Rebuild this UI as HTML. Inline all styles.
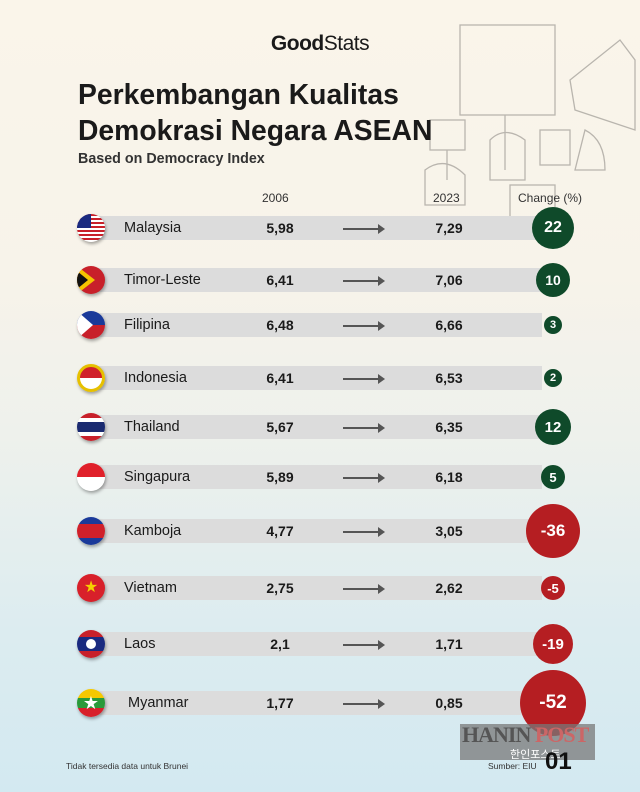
<!DOCTYPE html>
<html><head><meta charset="utf-8"><style>
*{margin:0;padding:0;box-sizing:border-box}
body{width:640px;height:792px;overflow:hidden;font-family:"Liberation Sans",sans-serif;color:#1a1a1a;
background:linear-gradient(180deg,#faf5ea 0%,#f7f3ea 35%,#eef1ec 55%,#dcecf0 80%,#d3e9f1 100%);position:relative}
.a{position:absolute}
.bar{position:absolute;left:92px;width:450px;height:24px;background:#dcdcdc}
.flag{position:absolute;left:77px;width:28px;height:28px;border-radius:50%;overflow:hidden;box-shadow:1px 2px 3px rgba(0,0,0,.35)}
.name{position:absolute;left:124px;font-size:14.5px;line-height:24px}
.v{position:absolute;width:60px;text-align:center;font-size:14px;font-weight:bold;line-height:24px}
.arr{position:absolute;left:343px;width:40px;height:2px;background:#555}
.arr:after{content:"";position:absolute;right:-2px;top:-4px;border-left:7px solid #555;border-top:5px solid transparent;border-bottom:5px solid transparent}
.c{position:absolute;border-radius:50%;color:#fff;font-weight:bold;display:flex;align-items:center;justify-content:center}
.g{background:#0f4a2a}.r{background:#b51e22}
</style></head><body>
<svg class="a" style="left:420px;top:20px" width="220" height="200" viewBox="0 0 220 200" fill="none" stroke="#b9b5ae" stroke-width="1.3">
<rect x="40" y="5" width="95" height="90"/><line x1="85" y1="95" x2="85" y2="150"/>
<path d="M70 120 q15-15 35 0 v40 h-35z"/>
<rect x="10" y="100" width="35" height="30"/><line x1="27" y1="130" x2="27" y2="160"/>
<path d="M5 150 q20-15 40 5 v30 h-40z"/>
<rect x="120" y="110" width="30" height="35"/>
<path d="M150 60 l50-40 l15 20 v70 l-60-20z"/><path d="M165 110 q20 10 20 40 h-30z"/>
<rect x="90" y="165" width="45" height="35"/></svg>
<div class="a" style="left:0;width:640px;top:32px;text-align:center;font-size:21px;letter-spacing:-0.5px"><b>Good</b>Stats</div>
<div class="a" style="left:78px;top:76px;font-size:28.3px;font-weight:bold;line-height:36px">Perkembangan Kualitas<br>Demokrasi Negara ASEAN</div>
<div class="a" style="left:78px;top:151px;font-size:14.3px;font-weight:bold;color:#333">Based on Democracy Index</div>
<div class="a" style="left:262px;top:191px;font-size:12px;color:#333">2006</div>
<div class="a" style="left:433px;top:191px;font-size:12px;color:#333">2023</div>
<div class="a" style="left:518px;top:191px;font-size:12px;color:#333">Change (%)</div>

<div class="bar" style="top:216px"></div><div class="flag" style="top:214px;background:repeating-linear-gradient(180deg,#c8202a 0 2px,#fff 2px 4px)"><div style="width:14px;height:14px;background:#1a2a80"></div></div>
<div class="name" style="top:216px">Malaysia</div><div class="v" style="left:250px;top:216px">5,98</div><div class="arr" style="top:228px"></div><div class="v" style="left:419px;top:216px">7,29</div>
<div class="c g" style="left:532px;top:207px;width:42px;height:42px;font-size:16px">22</div>

<div class="bar" style="top:268px"></div><div class="flag" style="top:266px;background:#c8202a"><div style="position:absolute;left:0;top:0;border-left:18px solid #f5c400;border-top:14px solid transparent;border-bottom:14px solid transparent"></div><div style="position:absolute;left:0;top:5px;border-left:11px solid #111;border-top:9px solid transparent;border-bottom:9px solid transparent"></div></div>
<div class="name" style="top:268px">Timor-Leste</div><div class="v" style="left:250px;top:268px">6,41</div><div class="arr" style="top:280px"></div><div class="v" style="left:419px;top:268px">7,06</div>
<div class="c g" style="left:536px;top:263px;width:34px;height:34px;font-size:14px">10</div>

<div class="bar" style="top:313px"></div><div class="flag" style="top:311px;background:linear-gradient(180deg,#1a3a9a 50%,#c8202a 50%)"><div style="position:absolute;left:0;top:0;border-left:16px solid #fff;border-top:14px solid transparent;border-bottom:14px solid transparent"></div></div>
<div class="name" style="top:313px">Filipina</div><div class="v" style="left:250px;top:313px">6,48</div><div class="arr" style="top:325px"></div><div class="v" style="left:419px;top:313px">6,66</div>
<div class="c g" style="left:544px;top:316px;width:18px;height:18px;font-size:11px">3</div>

<div class="bar" style="top:366px"></div><div class="flag" style="top:364px;border:3px solid #e6c000;background:linear-gradient(180deg,#d0202a 50%,#fff 50%)"></div>
<div class="name" style="top:366px">Indonesia</div><div class="v" style="left:250px;top:366px">6,41</div><div class="arr" style="top:378px"></div><div class="v" style="left:419px;top:366px">6,53</div>
<div class="c g" style="left:544px;top:369px;width:18px;height:18px;font-size:11px">2</div>

<div class="bar" style="top:415px"></div><div class="flag" style="top:413px;background:linear-gradient(180deg,#c8202a 17%,#fff 17% 33%,#1a2a70 33% 67%,#fff 67% 83%,#c8202a 83%)"></div>
<div class="name" style="top:415px">Thailand</div><div class="v" style="left:250px;top:415px">5,67</div><div class="arr" style="top:427px"></div><div class="v" style="left:419px;top:415px">6,35</div>
<div class="c g" style="left:535px;top:409px;width:36px;height:36px;font-size:15px">12</div>

<div class="bar" style="top:465px"></div><div class="flag" style="top:463px;background:linear-gradient(180deg,#e0202a 50%,#fff 50%)"></div>
<div class="name" style="top:465px">Singapura</div><div class="v" style="left:250px;top:465px">5,89</div><div class="arr" style="top:477px"></div><div class="v" style="left:419px;top:465px">6,18</div>
<div class="c g" style="left:541px;top:465px;width:24px;height:24px;font-size:13px">5</div>

<div class="bar" style="top:519px"></div><div class="flag" style="top:517px;background:linear-gradient(180deg,#1a3a9a 25%,#d0202a 25% 75%,#1a3a9a 75%)"></div>
<div class="name" style="top:519px">Kamboja</div><div class="v" style="left:250px;top:519px">4,77</div><div class="arr" style="top:531px"></div><div class="v" style="left:419px;top:519px">3,05</div>
<div class="c r" style="left:526px;top:504px;width:54px;height:54px;font-size:17px">-36</div>

<div class="bar" style="top:576px"></div><div class="flag" style="top:574px;background:#d8202a;color:#f5d000;font-size:16px;text-align:center;line-height:28px">★</div>
<div class="name" style="top:576px">Vietnam</div><div class="v" style="left:250px;top:576px">2,75</div><div class="arr" style="top:588px"></div><div class="v" style="left:419px;top:576px">2,62</div>
<div class="c r" style="left:541px;top:576px;width:24px;height:24px;font-size:13px">-5</div>

<div class="bar" style="top:632px"></div><div class="flag" style="top:630px;background:linear-gradient(180deg,#c8202a 25%,#1a2a80 25% 75%,#c8202a 75%)"><div style="position:absolute;left:9px;top:9px;width:10px;height:10px;border-radius:50%;background:#fff"></div></div>
<div class="name" style="top:632px">Laos</div><div class="v" style="left:250px;top:632px">2,1</div><div class="arr" style="top:644px"></div><div class="v" style="left:419px;top:632px">1,71</div>
<div class="c r" style="left:533px;top:624px;width:40px;height:40px;font-size:15px">-19</div>

<div class="bar" style="top:691px"></div><div class="flag" style="top:689px;background:linear-gradient(180deg,#f5c800 33%,#2a9a3a 33% 67%,#d8202a 67%);color:#fff;font-size:18px;text-align:center;line-height:28px">★</div>
<div class="name" style="top:691px;left:128px">Myanmar</div><div class="v" style="left:250px;top:691px">1,77</div><div class="arr" style="top:703px"></div><div class="v" style="left:419px;top:691px">0,85</div>
<div class="c r" style="left:520px;top:670px;width:66px;height:66px;font-size:19px">-52</div>

<div class="a" style="left:460px;top:724px;width:135px;height:36px;background:rgba(120,120,120,.75)"></div>
<div class="a" style="left:462px;top:722px;font-family:'Liberation Serif',serif;font-weight:bold;font-size:22px;color:#555;letter-spacing:-1px">HANIN <span style="color:#c66">POST</span></div>
<div class="a" style="left:510px;top:746px;font-size:11px;color:#fff;font-family:'Liberation Sans','Noto Sans CJK KR',sans-serif">한인포스트</div>
<div class="a" style="left:66px;top:761px;font-size:8.5px;color:#333">Tidak tersedia data untuk Brunei</div>
<div class="a" style="left:488px;top:761px;font-size:8.5px;color:#333">Sumber: EIU</div>
<div class="a" style="left:545px;top:748px;font-size:24px;font-weight:bold;color:#111">01</div>
</body></html>
